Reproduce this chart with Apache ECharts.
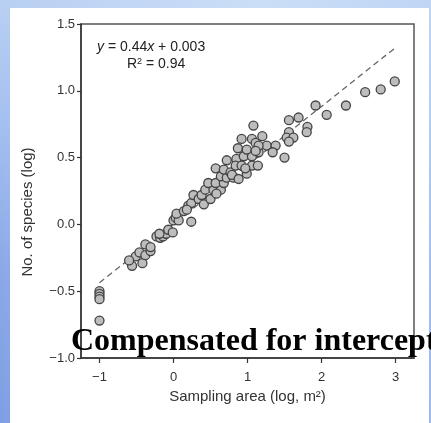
<!DOCTYPE html>
<html>
<head>
<meta charset="utf-8">
<script src="https://cdn.jsdelivr.net/npm/echarts@6/dist/echarts.min.js"></script>
<style>
  html, body { margin: 0; padding: 0; }
  body {
    width: 431px; height: 423px; overflow: hidden; position: relative;
    background:
      linear-gradient(to right, rgba(160,190,240,0.0) 0%, rgba(215,232,250,0.6) 60%, rgba(200,222,248,0.4) 100%),
      linear-gradient(to bottom, #b9d0f3 0%, #a3bff0 30%, #8aa8e8 65%, #7f9fe4 100%);
  }
  #panel { position: absolute; left: 10px; top: 8px; width: 419px; height: 415px; background: #ffffff; }
  #chart { position: absolute; left: 0; top: 0; width: 431px; height: 423px; }
</style>
</head>
<body>
<div id="panel"></div>
<div id="chart"></div>
<script>
// Sampling area (log, m2)
const areaLog = [
  -1, -1, -1, -1, -1,
  -0.56, -0.51, -0.42, -0.46, -0.38, -0.31, -0.38, -0.31, -0.60,
  -0.23, -0.18, -0.14, -0.10, -0.07, -0.01, -0.19,
  0.00, 0.03, 0.07, 0.04, 0.14, 0.24, 0.20, 0.24, 0.27, 0.34, 0.41, 0.38, 0.50, 0.43, 0.54, 0.64, 0.58,
  0.47, 0.57, 0.68, 0.64, 0.72, 0.81, 0.99, 0.57, 0.68, 0.77, 0.72, 0.85, 0.95, 1.06, 0.84, 0.92, 1.06, 1.14, 0.18,
  1.08, 0.92, 1.06, 1.20, 0.87, 1.11, 1.26, 1.38, 1.15, 1.34, 1.15, 0.99, 1.50, 1.56, 1.69, 1.56, 1.53, 1.62, 1.56,
  1.81, 1.80, 1.92, 2.07, 2.33, 2.59, 2.80, 2.99,
  1.11, 0.97, 0.79, 0.88
];
// No. of species (log)
const speciesLog = [
  -0.50, -0.52, -0.54, -0.56, -0.72,
  -0.31, -0.24, -0.29, -0.21, -0.23, -0.20, -0.15, -0.17, -0.27,
  -0.09, -0.10, -0.09, -0.07, -0.04, -0.06, -0.07,
  0.03, 0.05, 0.03, 0.08, 0.10, 0.02, 0.14, 0.16, 0.22, 0.19, 0.15, 0.22, 0.19, 0.26, 0.26, 0.26, 0.23,
  0.31, 0.31, 0.31, 0.36, 0.35, 0.35, 0.38, 0.42, 0.41, 0.39, 0.48, 0.49, 0.51, 0.51, 0.44, 0.44, 0.44, 0.44, 0.11,
  0.74, 0.64, 0.64, 0.66, 0.57, 0.61, 0.59, 0.59, 0.54, 0.54, 0.59, 0.56, 0.50, 0.78, 0.80, 0.69, 0.65, 0.65, 0.62,
  0.73, 0.69, 0.89, 0.82, 0.89, 0.99, 1.01, 1.07,
  0.55, 0.42, 0.37, 0.34
];
// Regression line endpoints (y = 0.44x + 0.003)
const fitX = [-1, 3];
const fitY = [-0.437, 1.323];
const xTicks = [-1, 0, 1, 2, 3];
const yTicks = [-1.0, -0.5, 0.0, 0.5, 1.0, 1.5];

const points = areaLog.map((x, i) => [x, speciesLog[i]]);
const fitLine = fitX.map((x, i) => [x, fitY[i]]);
const minus = s => String(s).replace('-', '\u2212');

const chart = echarts.init(document.getElementById('chart'), null, { renderer: 'canvas' });
const labelFont = { color: '#333', fontSize: 13, fontFamily: 'Liberation Sans, Arial, sans-serif' };
chart.setOption({
  animation: false,
  backgroundColor: 'transparent',
  grid: { left: 81, right: 17, top: 24, bottom: 65, show: true, borderColor: '#555', borderWidth: 1.5, backgroundColor: 'transparent' },
  xAxis: {
    type: 'value', min: -1.25, max: 3.25,
    axisLine: { show: true, onZero: false, lineStyle: { color: '#333', width: 1.5 } },
    axisTick: { show: true, length: 5, customValues: xTicks, lineStyle: { color: '#333', width: 1.2 } },
    axisLabel: Object.assign({ customValues: xTicks, margin: 13, formatter: v => minus(v) }, labelFont),
    splitLine: { show: false },
    name: 'Sampling area (log, m\u00b2)', nameLocation: 'middle', nameGap: 26,
    nameTextStyle: { color: '#333', fontSize: 15, fontFamily: 'Liberation Sans, Arial, sans-serif' }
  },
  yAxis: {
    type: 'value', min: -1, max: 1.5, interval: 0.5,
    axisLine: { show: true, onZero: false, lineStyle: { color: '#333', width: 1.5 } },
    axisTick: { show: true, length: 4, lineStyle: { color: '#333', width: 1.2 } },
    axisLabel: Object.assign({ margin: 6, formatter: v => minus(v.toFixed(1)) }, labelFont),
    splitLine: { show: false }
  },
  graphic: [
    {
      type: 'text', left: 97, top: 40, z: 100,
      style: {
        text: '{i|y} = 0.44{i|x} + 0.003',
        rich: { i: { fontStyle: 'italic', fontSize: 14, fontFamily: 'Liberation Sans, Arial, sans-serif', fill: '#222' } },
        fontSize: 14, fontFamily: 'Liberation Sans, Arial, sans-serif', fill: '#222'
      }
    },
    {
      type: 'text', left: 127, top: 57, z: 100,
      style: {
        text: 'R{sup|2} = 0.94',
        rich: { sup: { fontSize: 9, verticalAlign: 'top', padding: [0, 0, 6, 0], fontFamily: 'Liberation Sans, Arial, sans-serif', fill: '#222' } },
        fontSize: 14, fontFamily: 'Liberation Sans, Arial, sans-serif', fill: '#222'
      }
    },
    {
      type: 'text', x: 28, y: 212, rotation: Math.PI / 2, z: 100,
      style: {
        text: 'No. of species (log)', align: 'center', verticalAlign: 'middle',
        fontSize: 15, fontFamily: 'Liberation Sans, Arial, sans-serif', fill: '#333'
      }
    },
    {
      type: 'text', x: 71, y: 358, z: 200,
      style: {
        text: 'Compensated for intercept', align: 'left', verticalAlign: 'bottom',
        fontSize: 32, fontWeight: 'bold', fontFamily: 'Liberation Serif, Times New Roman, serif', fill: '#000'
      }
    }
  ],
  series: [
    {
      type: 'line', data: fitLine, symbol: 'none', silent: true, z: 1,
      lineStyle: { color: '#666', width: 1.3, type: [6, 4] }
    },
    {
      type: 'scatter', data: points, symbol: 'circle', symbolSize: 9, z: 2,
      itemStyle: { color: '#bdbdbd', borderColor: '#444', borderWidth: 1.3, opacity: 1 }
    }
  ]
});
</script>
</body>
</html>
